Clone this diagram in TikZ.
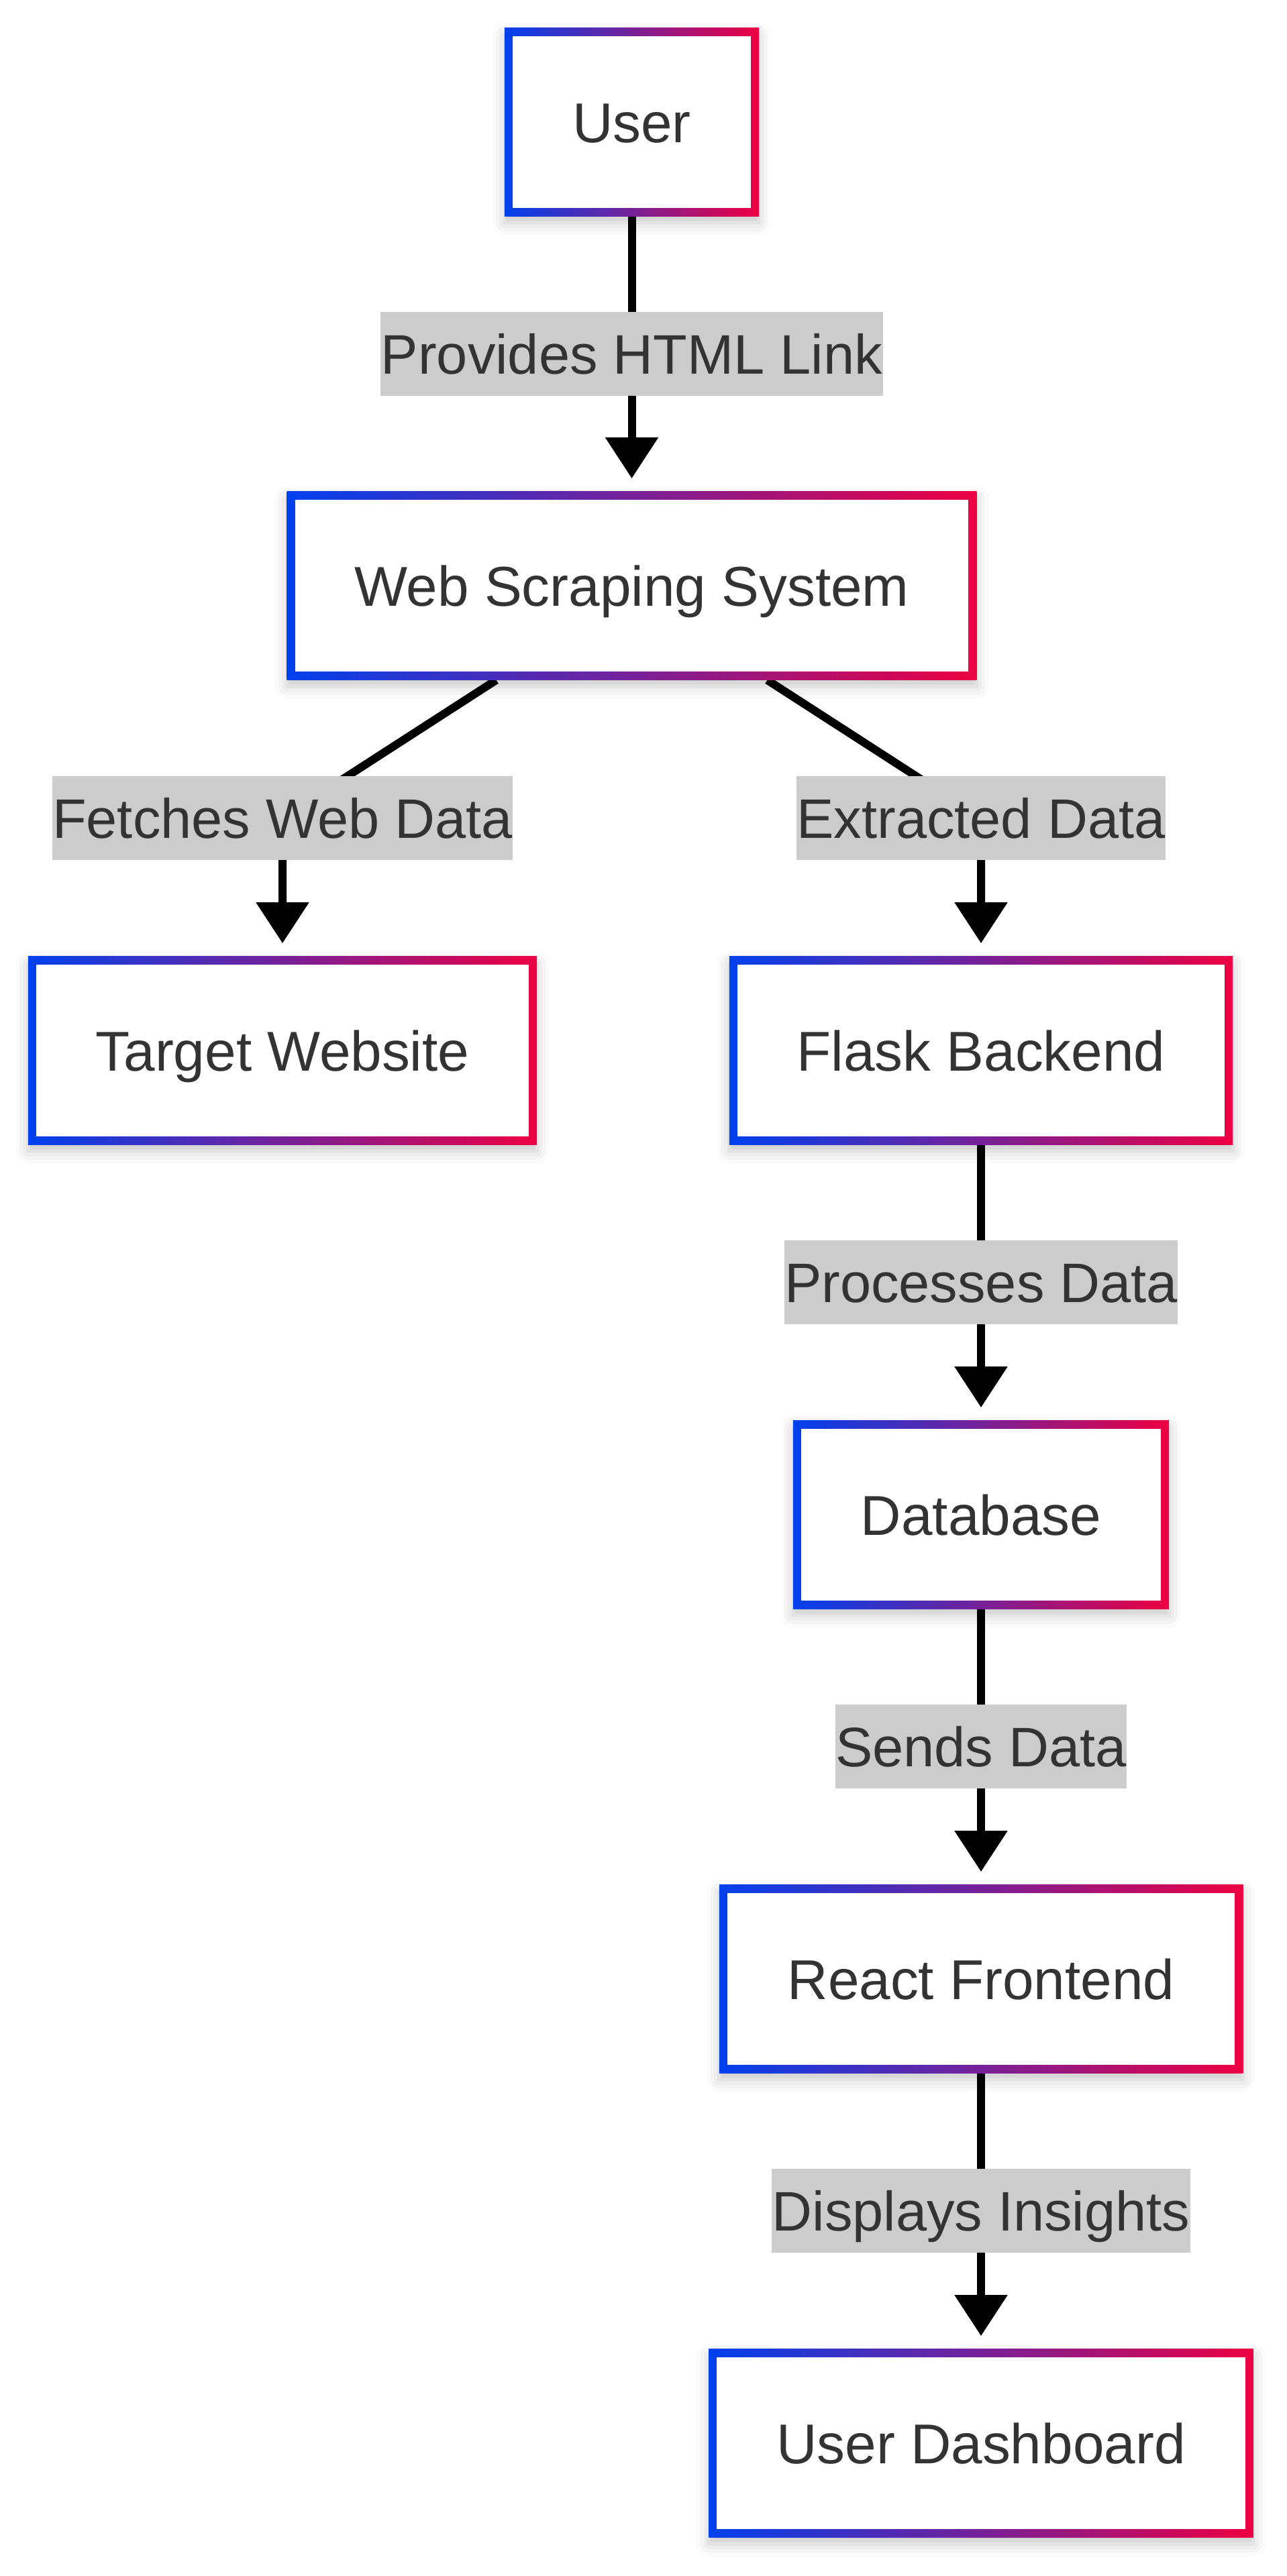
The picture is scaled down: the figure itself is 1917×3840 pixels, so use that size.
\documentclass[tikz,border=0pt]{standalone}
\usepackage{fontspec}
\setmainfont{Liberation Sans}
\usetikzlibrary{arrows.meta, backgrounds, shadows.blur}
\definecolor{flowblue}{HTML}{0041EE}
\definecolor{flowred}{HTML}{ED0042}
\definecolor{taggray}{HTML}{CCCCCC}
\definecolor{textdark}{HTML}{333333}

\begin{document}
\begin{tikzpicture}[x=0.01cm, y=-0.01cm,
    box/.style={rectangle, left color=flowblue, right color=flowred,
      minimum height=2.8cm, inner sep=0pt, text=textdark,
      text height=0.76cm, text depth=0.16cm,
      font=\fontsize{23.8}{28}\selectfont,
      blur shadow={shadow xshift=0cm, shadow yshift=-0.1cm,
        shadow blur radius=0.18cm, shadow opacity=22},
      path picture={\fill[white]
        ([shift={(0.12cm,-0.12cm)}]path picture bounding box.north west) rectangle
        ([shift={(-0.12cm,0.12cm)}]path picture bounding box.south east);}},
    tag/.style={rectangle, fill=taggray, text=textdark, inner xsep=0.005cm,
      inner ysep=0pt, minimum height=1.25cm, text height=0.76cm, text depth=0.16cm,
      font=\fontsize{23.6}{28}\selectfont},
    flow/.style={line width=0.12cm, -{Triangle[length=0.61cm, width=0.76cm]},
      shorten >=0.19cm}]
    \useasboundingbox (0,0) rectangle (1917,3840);

    % Draw the boxes
    \node[box, minimum width=3.79cm] (user) at (941.5,182) {User};
    \node[box, minimum width=10.27cm] (wss) at (941.5,873) {Web Scraping System};
    \node[box, minimum width=7.58cm] (target) at (421,1566) {Target Website};
    \node[box, minimum width=7.5cm] (flask) at (1462,1566) {Flask Backend};
    \node[box, minimum width=5.6cm] (db) at (1462,2258) {Database};
    \node[box, minimum width=7.8cm] (react) at (1462,2950) {React Frontend};
    \node[box, minimum width=8.11cm] (dash) at (1462,3642) {User Dashboard};

    % Draw the labels
    \node[tag] (provides) at (941.5,527.5) {Provides HTML Link};
    \node[tag] (fetches) at (421,1219.5) {Fetches Web Data};
    \node[tag] (extracted) at (1462,1219.5) {Extracted Data};
    \node[tag] (processes) at (1462,1911.5) {Processes Data};
    \node[tag] (sends) at (1462,2603.5) {Sends Data};
    \node[tag] (displays) at (1462,3295.5) {Displays Insights};

    % Where the two branches leave the system box
    \coordinate (wssL) at ([shift={(-202,0)}]wss.south);
    \coordinate (wssR) at ([shift={(202,0)}]wss.south);

    % Draw the arrows
    \begin{scope}[on background layer]
        \draw[flow] (user) -- (wss);
        \draw[flow] (wssL) -- (fetches.center) -- (target);
        \draw[flow] (wssR) -- (extracted.center) -- (flask);
        \draw[flow] (flask) -- (db);
        \draw[flow] (db) -- (react);
        \draw[flow] (react) -- (dash);
    \end{scope}
\end{tikzpicture}
\end{document}
